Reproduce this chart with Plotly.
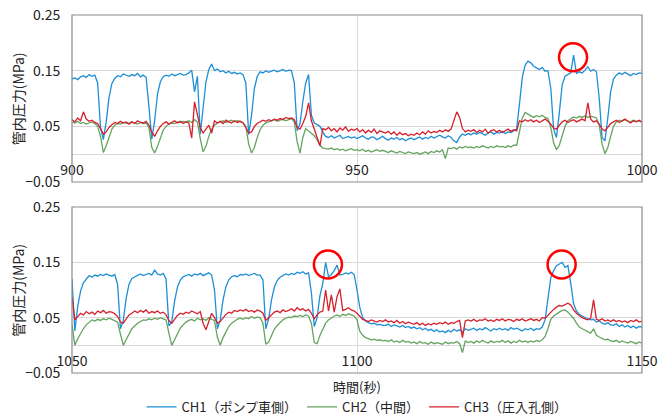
import numpy as np
import plotly.graph_objects as go

# ---------------- data (pressure in 1/1000 MPa, sampled every 0.5 s) ----------------
t_a = np.arange(900, 1000.01, 0.5)
t_b = np.arange(1050, 1150.01, 0.5)

ch1_a = [135,137,134,139,141,138,143,140,142,128,
         48,26,58,102,127,136,141,139,144,142,
         140,143,141,145,139,142,138,85,27,60,
         108,130,139,142,140,144,141,143,145,142,
         143,146,151,112,140,36,82,130,152,162,
         150,153,148,150,146,149,145,147,144,146,
         143,128,35,70,118,140,148,146,150,147,
         149,151,148,150,152,149,151,150,128,42,
         55,95,128,143,70,56,53,50,40,32,
         30,33,29,31,34,28,30,32,29,31,
         28,30,33,29,27,31,30,26,29,32,
         28,25,29,27,30,26,28,24,27,29,
         26,29,31,27,30,28,32,29,31,34,
         31,29,33,30,24,21,31,36,34,37,
         35,38,36,39,37,34,38,40,36,39,
         38,41,37,40,39,42,45,90,138,160,
         167,164,158,155,152,156,149,150,118,45,
         30,75,125,140,143,146,178,145,148,146,
         151,157,149,152,148,100,30,24,65,112,
         135,142,146,143,147,144,141,145,143,146,145]

ch2_a = [58,56,59,55,57,54,56,58,55,50,
         32,3,15,32,45,52,55,54,57,56,
         55,58,56,54,57,55,56,48,12,2,
         14,30,43,50,54,56,55,58,57,59,
         58,60,57,62,58,28,4,14,32,45,
         52,56,58,60,57,59,61,58,60,59,
         57,50,18,2,12,30,44,52,56,58,
         60,62,59,61,63,60,62,64,58,22,
         2,30,46,42,38,33,26,16,11,10,
         9,11,8,10,7,9,6,8,10,7,
         8,6,9,5,7,4,6,8,5,7,
         5,3,6,4,2,5,3,1,4,2,
         1,3,0,2,4,1,5,3,6,4,
         8,-8,11,10,12,9,13,11,14,12,
         13,11,14,12,15,13,11,14,12,15,
         13,14,12,15,13,16,16,40,65,75,
         72,68,66,69,67,70,66,64,48,20,
         8,16,32,50,60,64,67,65,68,66,
         69,66,68,67,65,52,18,1,12,32,
         50,58,61,59,62,60,58,61,59,60,58]

ch3_a = [62,58,65,60,76,63,59,61,57,55,
         46,36,40,48,53,57,55,59,56,58,
         54,58,55,60,57,56,59,52,40,32,
         42,50,55,58,54,57,60,56,59,55,
         58,56,29,94,72,48,38,45,52,38,
         60,56,59,55,61,58,56,60,57,59,
         56,48,38,40,50,55,58,61,59,62,
         60,63,61,64,62,66,64,65,62,48,
         45,55,68,92,60,45,30,15,46,44,
         48,42,46,40,47,43,49,41,45,43,
         46,40,44,38,43,39,45,37,42,40,
         38,41,36,40,34,39,35,37,33,36,
         34,38,35,40,36,42,38,41,39,43,
         40,44,41,45,60,76,66,46,40,43,
         41,44,39,43,40,45,38,42,44,40,
         43,39,42,45,41,44,42,60,58,62,
         59,62,58,61,57,60,63,59,54,47,
         45,52,58,61,57,60,62,58,61,63,
         60,92,63,58,60,54,45,42,48,55,
         58,61,57,60,63,59,56,60,58,61,57]

ch1_b = [120,26,70,98,113,120,126,123,127,125,
         128,126,129,127,125,128,110,30,45,85,
         110,121,124,127,129,126,128,130,127,136,
         129,127,130,120,35,42,80,105,118,124,
         126,128,125,129,127,130,126,128,131,127,
         100,30,45,82,106,118,124,126,124,128,
         127,129,126,128,130,127,127,118,30,48,
         82,105,117,123,126,129,127,130,128,132,
         130,133,129,131,95,34,50,90,112,150,
         124,128,135,145,127,128,131,129,132,128,
         100,68,50,44,41,39,40,37,38,36,
         36,38,34,37,35,33,36,32,34,31,
         33,30,32,28,31,27,29,25,28,24,
         26,23,27,24,29,26,28,24,30,27,
         29,31,27,30,28,32,29,26,30,28,
         31,28,30,27,32,29,31,28,26,30,
         28,31,27,30,29,33,46,85,122,135,
         144,147,150,141,144,112,75,62,56,53,
         50,48,46,47,42,44,40,38,41,37,
         36,39,34,37,33,36,32,35,31,34,33]

ch2_b = [38,0,12,22,30,37,42,46,44,47,
         45,48,46,49,47,44,42,20,0,10,
         21,30,35,40,43,46,45,48,46,49,
         47,50,48,46,22,0,10,22,31,37,
         42,45,47,44,49,46,48,45,50,47,
         45,15,0,14,25,34,40,44,47,49,
         47,50,48,52,49,51,50,40,2,6,
         18,29,36,42,46,49,51,50,53,52,
         54,52,55,53,40,5,3,18,30,40,
         46,50,53,55,52,56,54,57,55,53,
         46,25,18,14,12,10,11,9,10,8,
         9,7,10,6,8,5,9,6,7,4,
         6,3,7,4,5,2,6,3,5,4,
         2,6,3,5,4,7,3,-13,8,5,
         7,4,8,5,9,6,4,8,5,7,
         6,9,5,8,4,7,5,9,6,8,
         5,8,6,9,7,10,16,30,47,53,
         57,60,63,64,60,55,49,40,33,30,
         27,25,22,30,18,15,12,10,11,8,
         7,9,5,8,6,4,7,5,3,6,4]

ch3_b = [88,46,52,58,55,61,57,60,56,62,
         59,63,58,61,60,57,52,42,40,48,
         55,58,62,59,63,60,64,58,61,59,
         62,58,60,55,45,40,48,54,58,56,
         60,58,62,59,57,61,40,28,45,58,
         50,40,43,50,56,60,58,63,61,64,
         62,65,61,63,60,64,62,58,45,50,
         56,60,62,59,64,61,63,66,62,68,
         64,66,62,65,58,48,55,60,62,100,
         62,91,60,88,102,63,65,68,64,62,
         58,52,47,45,43,46,44,42,45,43,
         46,42,44,41,45,40,43,39,42,40,
         38,41,37,40,36,39,37,40,38,41,
         39,42,38,41,40,43,45,14,44,46,
         44,47,43,46,45,48,44,46,43,47,
         45,48,44,47,46,43,47,45,48,44,
         46,48,45,47,44,50,49,55,61,65,
         69,72,71,74,76,73,64,58,54,50,
         48,46,49,82,47,45,48,44,46,43,
         46,43,45,42,44,41,45,43,46,42,44]

for arr in (ch1_a, ch2_a, ch3_a):
    assert len(arr) == len(t_a), len(arr)
for arr in (ch1_b, ch2_b, ch3_b):
    assert len(arr) == len(t_b), len(arr)

series_names = ["CH1（ポンプ車側）", "CH2（中間）", "CH3（圧入孔側）"]
series_colors = ["#1E8FD6", "#64A45E", "#D5202C"]

y_ticks = [-0.05, 0.05, 0.15, 0.25]
y_ticktext = ["−0.05", "0.05", "0.15", "0.25"]
x_ticks_a = [900, 950, 1000]
x_ticks_b = [1050, 1100, 1150]

# highlighted points (time, pressure MPa) -> red circles
circles_a = [(987.9, 0.174)]
circles_b = [(1094.9, 0.146), (1135.9, 0.146)]

y_title = "管内圧力(MPa)"
x_title = "時間(秒)"

# ---------------- figure ----------------
FONT = "Noto Sans CJK JP"
Y_RANGE = [-0.05, 0.25]
dom_a = [0.5335, 1.0]
dom_b = [0.0, 0.4637]

fig = go.Figure()
for vals, name, col in zip((ch1_a, ch2_a, ch3_a), series_names, series_colors):
    fig.add_trace(go.Scatter(x=t_a, y=np.array(vals) / 1000.0, mode="lines", name=name,
                             line=dict(color=col, width=1.3), xaxis="x", yaxis="y",
                             legendgroup=name))
for vals, name, col in zip((ch1_b, ch2_b, ch3_b), series_names, series_colors):
    fig.add_trace(go.Scatter(x=t_b, y=np.array(vals) / 1000.0, mode="lines", name=name,
                             line=dict(color=col, width=1.3), xaxis="x2", yaxis="y2",
                             legendgroup=name, showlegend=False))

def zero_pos(dom):
    return dom[0] + (dom[1] - dom[0]) * (0 - Y_RANGE[0]) / (Y_RANGE[1] - Y_RANGE[0])

grid = "#D9D9D9"
common_x = dict(showgrid=True, gridcolor=grid, gridwidth=1, zeroline=False, showline=False,
                ticks="outside", ticklen=3, tickcolor="rgba(0,0,0,0)", automargin=False,
                tickfont=dict(family=FONT, size=14, color="#222"), domain=[0, 1])
common_y = dict(range=Y_RANGE, tickvals=y_ticks, ticktext=y_ticktext, showgrid=True,
                gridcolor=grid, gridwidth=1, zeroline=True, zerolinecolor=grid, zerolinewidth=1,
                showline=False, ticks="outside", ticklen=8, tickcolor="rgba(0,0,0,0)",
                automargin=False, tickfont=dict(family=FONT, size=14, color="#222"))

fig.update_layout(
    xaxis=dict(range=[900, 1000], tickvals=x_ticks_a, anchor="free", position=zero_pos(dom_a),
               **common_x),
    yaxis=dict(domain=dom_a, anchor="x", **common_y),
    xaxis2=dict(range=[1050, 1150], tickvals=x_ticks_b, anchor="free", position=zero_pos(dom_b),
                **common_x),
    yaxis2=dict(domain=dom_b, anchor="x2", **common_y),
)

# plot frames
for xr, yr in (("x", "y"), ("x2", "y2")):
    fig.add_shape(type="rect", xref=f"{xr} domain", yref=f"{yr} domain", x0=0, x1=1, y0=0, y1=1,
                  line=dict(color="#8A8A8A", width=1.2), layer="above")

# red circles
for (cx, cy) in circles_a:
    fig.add_shape(type="circle", xref="x", yref="y", xsizemode="pixel", ysizemode="pixel",
                  xanchor=cx, yanchor=cy, x0=-14, x1=14, y0=-14, y1=14,
                  line=dict(color="#FF0000", width=2.5))
for (cx, cy) in circles_b:
    fig.add_shape(type="circle", xref="x2", yref="y2", xsizemode="pixel", ysizemode="pixel",
                  xanchor=cx, yanchor=cy, x0=-14, x1=14, y0=-14, y1=14,
                  line=dict(color="#FF0000", width=2.5))

# axis titles
for dom in (dom_a, dom_b):
    fig.add_annotation(text=y_title, xref="paper", yref="paper", x=-0.095, y=(dom[0] + dom[1]) / 2,
                       textangle=-90, showarrow=False, xanchor="center", yanchor="middle",
                       font=dict(family=FONT, size=14, color="#222"))
fig.add_annotation(text=x_title, xref="paper", yref="paper", x=0.5, y=-0.037, showarrow=False,
                   xanchor="center", yanchor="middle", font=dict(family=FONT, size=13, color="#222"))

fig.update_layout(
    width=669, height=416,
    margin=dict(l=72, r=27, t=15, b=43, autoexpand=False),
    paper_bgcolor="white", plot_bgcolor="white",
    font=dict(family=FONT, size=13, color="#222"),
    showlegend=True,
    legend=dict(orientation="h", x=0.5, xanchor="center", y=-0.095, yanchor="middle",
                font=dict(family=FONT, size=13, color="#222"), bgcolor="rgba(0,0,0,0)",
                itemwidth=30, tracegroupgap=0),
)

fig.write_html("out.html", config={"displayModeBar": False},
               post_script="document.body.style.margin='0';")
